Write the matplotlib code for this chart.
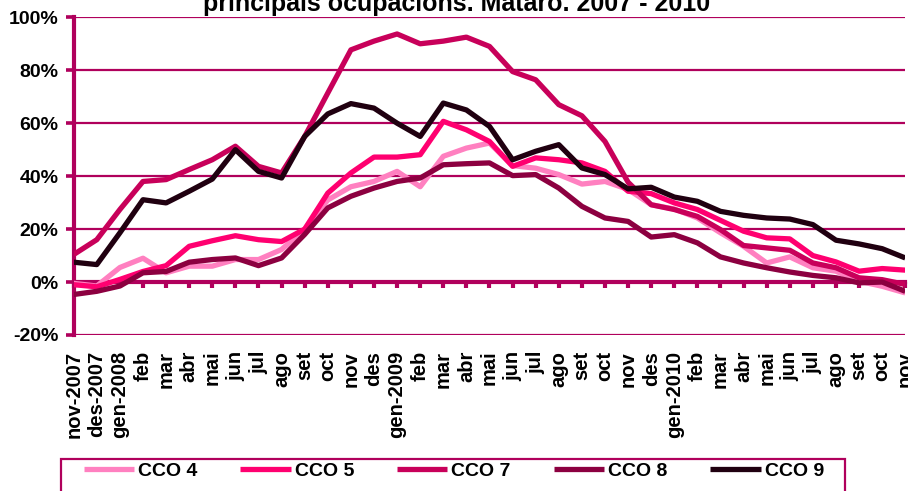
import numpy as np
import matplotlib
matplotlib.use("Agg")
import matplotlib.pyplot as plt
from matplotlib.patches import Rectangle
from matplotlib.ticker import FuncFormatter

plt.rcParams['font.family'] = ['Liberation Sans', 'DejaVu Sans']

# --- dades (data) ---
months = ['nov-2007', 'des-2007', 'gen-2008', 'feb', 'mar', 'abr', 'mai', 'jun', 'jul', 'ago',
          'set', 'oct', 'nov', 'des', 'gen-2009', 'feb', 'mar', 'abr', 'mai', 'jun', 'jul', 'ago',
          'set', 'oct', 'nov', 'des', 'gen-2010', 'feb', 'mar', 'abr', 'mai', 'jun', 'jul', 'ago',
          'set', 'oct', 'nov']

cco4 = [-0.5, -1.5, 5.5, 9.0, 3.5, 6.0, 6.0, 8.5, 8.5, 12.3, 20.0, 31.0, 36.0, 38.0, 41.8, 36.0,
        47.5, 50.6, 52.5, 44.0, 43.0, 40.6, 37.0, 38.0, 35.0, 29.2, 27.6, 24.2, 18.6, 13.5, 7.2,
        9.5, 5.4, 4.1, 0.3, -1.6, -4.1]
cco5 = [-1.0, -1.8, 1.0, 4.0, 6.2, 13.5, 15.6, 17.5, 16.0, 15.3, 20.0, 33.6, 41.2, 47.2, 47.2, 48.1,
        60.7, 57.5, 53.1, 43.7, 46.9, 46.2, 45.0, 41.8, 34.3, 33.4, 29.9, 27.4, 23.3, 19.2, 16.7,
        16.3, 10.0, 7.6, 4.1, 5.1, 4.5]
cco7 = [10.4, 16.0, 27.4, 38.0, 38.7, 42.5, 46.2, 51.3, 43.7, 41.2, 55.0, 71.4, 87.7, 91.0, 93.7,
        90.0, 91.0, 92.5, 89.0, 79.5, 76.4, 67.0, 62.8, 53.1, 37.7, 29.2, 27.4, 24.8, 19.8, 13.8,
        12.9, 12.0, 7.2, 5.4, 1.6, 0.9, -0.9]
cco8 = [-4.7, -3.5, -1.5, 3.5, 4.0, 7.5, 8.5, 9.1, 6.2, 9.1, 18.0, 28.0, 32.4, 35.5, 38.0, 39.3,
        44.3, 44.7, 45.0, 40.2, 40.6, 35.5, 28.6, 24.2, 22.9, 17.0, 17.9, 14.8, 9.5, 7.2, 5.4,
        3.8, 2.5, 1.6, -0.3, 0.0, -3.5]
cco9 = [7.5, 6.6, 18.6, 31.1, 29.9, 34.3, 38.9, 50.0, 41.8, 39.3, 55.0, 63.5, 67.4, 65.7, 60.0,
        55.0, 67.6, 65.0, 58.8, 46.2, 49.4, 51.9, 43.1, 40.6, 35.2, 35.8, 32.1, 30.5, 26.7, 25.2,
        24.2, 23.8, 21.7, 15.8, 14.4, 12.6, 9.1]

series_names = ['CCO 4', 'CCO 5', 'CCO 7', 'CCO 8', 'CCO 9']
series_values = [cco4, cco5, cco7, cco8, cco9]
series_colors = ['#FF80C0', '#FF0070', '#C8005A', '#8C0040', '#200010']

axis_color = '#B0005C'

# --- figura ---
W, H = 908, 491
fig = plt.figure(figsize=(W / 100, H / 100), dpi=100)
ax = fig.add_axes([73.7 / W, 1 - 335 / H, (905.3 - 73.7) / W, (335 - 17.3) / H])

# eixos (abans dels ticks: set_position reinicia els ticks)
ax.spines['top'].set_visible(False)
ax.spines['right'].set_visible(False)
ax.spines['left'].set_color(axis_color)
ax.spines['left'].set_linewidth(3)
ax.spines['bottom'].set_position(('data', 0))
ax.spines['bottom'].set_color(axis_color)
ax.spines['bottom'].set_linewidth(3)

x = np.arange(len(months))
for name, vals, col in zip(series_names, series_values, series_colors):
    ax.plot(x, np.array(vals) / 100, color=col, lw=3.8, label=name,
            solid_joinstyle='round', solid_capstyle='butt', zorder=3)

ax.set_xlim(0, len(months) - 1)
ax.set_ylim(-0.2, 1.0)
ax.set_yticks(np.arange(-0.2, 1.01, 0.2))
ax.yaxis.set_major_formatter(FuncFormatter(lambda v, p: f'{v * 100:.0f}%'))

ax.set_xticks(x)
ax.set_xticklabels(months, rotation=90, fontsize=14.5, fontweight='bold',
                   ha='center', va='top')
for lab in ax.get_yticklabels():
    lab.set_fontweight('bold')
    lab.set_fontsize(14)

ax.yaxis.grid(True, color=axis_color, lw=1.6)
ax.set_axisbelow(True)
ax.tick_params(axis='y', direction='out', length=6, width=2.6, color=axis_color, pad=5)
ax.tick_params(axis='x', direction='out', length=4.5, width=3, color=axis_color, pad=45)

# titol (tallat a dalt)
fig.text(0.503, 1 - 11.5 / H, 'principals ocupacions. Mataró. 2007 - 2010',
         ha='center', va='baseline', fontsize=18, fontweight='bold')

# llegenda
fig.patches.append(Rectangle((61 / W, -0.1), (845 - 61) / W, 0.1 + 1 - 459 / H,
                             transform=fig.transFigure, fill=False,
                             edgecolor=axis_color, lw=1.6))
fig.legend(loc='center left', bbox_to_anchor=(74 / W, 1 - 471 / H), ncol=5,
           frameon=False, borderpad=0, handlelength=2.6, handletextpad=0.2,
           columnspacing=2.2, prop={'weight': 'bold', 'size': 14})

fig.savefig('out.png', dpi=100)
